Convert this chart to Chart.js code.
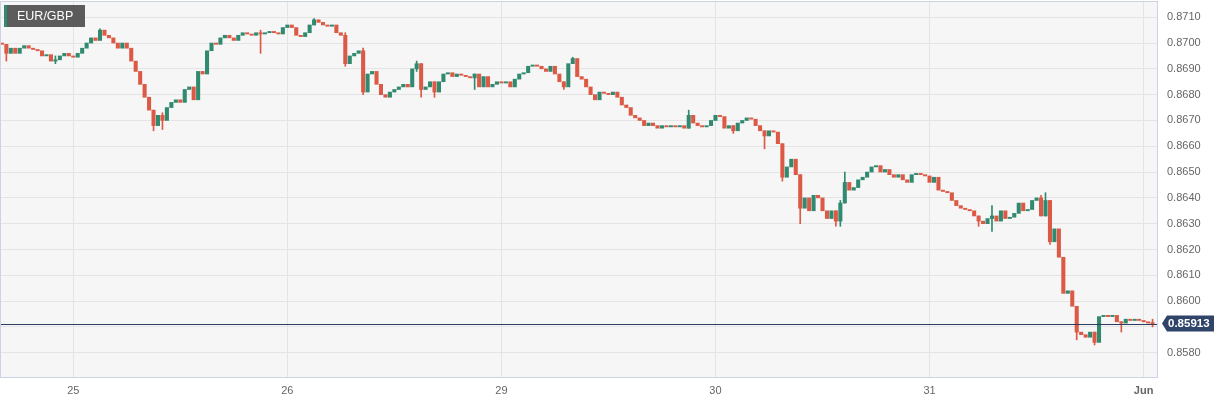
<!DOCTYPE html>
<html>
<head>
<meta charset="utf-8">
<script src="https://cdn.jsdelivr.net/npm/chart.js@4.4.1/dist/chart.umd.min.js"></script>
<style>
  html, body { margin: 0; padding: 0; background: #fff; }
  canvas { display: block; }
</style>
</head>
<body>
<canvas id="chart" width="1229" height="403"></canvas>
<script>
// Données (bougies de 30 min, ouverture = clôture précédente)
const symbol = 'EUR/GBP';
const firstOpen = 0.8700;
const closes = [
    0.86995, 0.8696, 0.8698, 0.8696, 0.8698, 0.8699, 0.8698, 0.86975, 0.8697, 0.8695,
    0.86955, 0.8693, 0.86935, 0.8695, 0.8696, 0.8695, 0.86945, 0.8696, 0.8698, 0.8700,
    0.8702, 0.8701, 0.8705, 0.8703, 0.8702, 0.8700, 0.8698, 0.8700, 0.8698, 0.8693,
    0.8689, 0.8684, 0.8679, 0.8674, 0.8668, 0.8672, 0.8670, 0.8675, 0.8677, 0.8678,
    0.8677, 0.8682, 0.8683, 0.8678, 0.8689, 0.8688, 0.8697, 0.8700, 0.86995, 0.8702,
    0.8703, 0.8702, 0.8701, 0.8703, 0.8704, 0.87035, 0.8703, 0.8704, 0.87035, 0.8704,
    0.87045, 0.8704, 0.87035, 0.8706, 0.8707, 0.8706, 0.8703, 0.87025, 0.8704, 0.8707,
    0.8709, 0.8708, 0.8707, 0.87065, 0.8707, 0.8704, 0.8703, 0.8692, 0.8695, 0.8696,
    0.8697, 0.8681, 0.8688, 0.8689, 0.8684, 0.8680, 0.8679, 0.8681, 0.8682, 0.8683,
    0.8684, 0.8683, 0.8690, 0.8692, 0.8682, 0.8683, 0.8685, 0.8681, 0.8685, 0.8688,
    0.86885, 0.8687, 0.8688, 0.86875, 0.8687, 0.86865, 0.8688, 0.8683, 0.8687, 0.8683,
    0.8684, 0.8685, 0.86845, 0.8685, 0.8683, 0.8686, 0.8688, 0.86885, 0.8691, 0.86915,
    0.8691, 0.8690, 0.8689, 0.8691, 0.8688, 0.8685, 0.8683, 0.8692, 0.8694, 0.8687,
    0.8686, 0.8683, 0.8680, 0.8678, 0.8681, 0.86805, 0.8680, 0.8681, 0.8679, 0.8676,
    0.8675, 0.8672, 0.8671, 0.8670, 0.8668, 0.8669, 0.8668, 0.8667, 0.8668, 0.86675,
    0.8668, 0.86675, 0.8668, 0.8667, 0.8672, 0.8669, 0.8668, 0.86675, 0.8668, 0.8670,
    0.8672, 0.86715, 0.8667, 0.8668, 0.8666, 0.8669, 0.8670, 0.8671, 0.86705, 0.8668,
    0.8666, 0.8664, 0.8666, 0.86655, 0.8661, 0.8648, 0.8652, 0.8655, 0.8649, 0.8636,
    0.8640, 0.8635, 0.8641, 0.8640, 0.8635, 0.8632, 0.8635, 0.8631, 0.8638, 0.8646,
    0.8643, 0.8644, 0.8647, 0.8648, 0.8650, 0.8652, 0.86525, 0.8650, 0.8651, 0.8649,
    0.8648, 0.8649, 0.8647, 0.8646, 0.8649, 0.86495, 0.8649, 0.86485, 0.8646, 0.8648,
    0.8643, 0.86425, 0.8642, 0.8639, 0.8637, 0.8636, 0.86355, 0.8635, 0.8633, 0.8631,
    0.8630, 0.8632, 0.8633, 0.8631, 0.8635, 0.8632, 0.86325, 0.8634, 0.8638, 0.8635,
    0.86355, 0.8639, 0.8640, 0.8633, 0.8639, 0.8623, 0.8628, 0.8617, 0.8603, 0.8604,
    0.8598, 0.8588, 0.8587, 0.8586, 0.8588, 0.8584, 0.8594, 0.85945, 0.8594, 0.85945,
    0.8592, 0.85915, 0.8593, 0.85925, 0.8593, 0.85925, 0.8592, 0.85915, 0.85913
];

// Mèches visibles (index de bougie, plus haut, plus bas)
const wickAt   = [1, 12, 22, 34, 36, 58, 70, 77, 81, 93, 94, 97, 106, 126, 128, 154, 164, 171, 175, 179, 187, 188, 189, 219, 222, 233, 234, 235, 241, 245, 251, 258];
const wickHigh = [0.86995, 0.8695, 0.87055, 0.8674, 0.8673, 0.8705, 0.87095, 0.8704, 0.8698, 0.8693, 0.8692, 0.8685, 0.8688, 0.8685, 0.86945, 0.8674, 0.8668, 0.8666, 0.8661, 0.8649, 0.8635, 0.8639, 0.8650, 0.8633, 0.8637, 0.8641, 0.8642, 0.8639, 0.8598, 0.8588, 0.8592, 0.8593];
const wickLow  = [0.8693, 0.8692, 0.8702, 0.8666, 0.86665, 0.8696, 0.8707, 0.8691, 0.8680, 0.8689, 0.8679, 0.8679, 0.8682, 0.8682, 0.8692, 0.8667, 0.8665, 0.8659, 0.86465, 0.8630, 0.8629, 0.8629, 0.8638, 0.8629, 0.8627, 0.8633, 0.8633, 0.8622, 0.8585, 0.8583, 0.8588, 0.8590];

const xTickIdx = [16, 64, 112, 160, 208, 256];
const xTickLabels = ['25', '26', '29', '30', '31', 'Jun'];
const yTicks = [0.8580, 0.8590, 0.8600, 0.8610, 0.8620, 0.8630, 0.8640, 0.8650, 0.8660, 0.8670, 0.8680, 0.8690, 0.8700, 0.8710];
const lastPrice = 0.85913;

const GREEN = '#2f8a70';
const RED = '#dc5a45';

const opens = closes.map((c, i) => i === 0 ? firstOpen : closes[i - 1]);
const bodies = closes.map((c, i) => ({ x: i, y: [opens[i], c] }));
const bodyColors = closes.map((c, i) => c >= opens[i] ? GREEN : RED);
const wicks = wickAt.map((i, k) => ({ x: i, y: [wickLow[k], wickHigh[k]] }));
const wickColors = wickAt.map(i => bodyColors[i]);

// Fond, bordure, titre et étiquette du dernier prix
const decor = {
    id: 'decor',
    beforeDraw(chart) {
        const { ctx, chartArea: a } = chart;
        ctx.save();
        ctx.fillStyle = '#fff';
        ctx.fillRect(0, 0, chart.width, chart.height);
        ctx.fillStyle = '#f6f6f6';
        ctx.fillRect(a.left, a.top, a.right - a.left, a.bottom - a.top);
        ctx.restore();
    },
    afterDatasetsDraw(chart) {
        const { ctx, chartArea: a, scales } = chart;
        const y = Math.round(scales.y.getPixelForValue(lastPrice)) + 0.5;
        ctx.save();
        ctx.strokeStyle = '#2b3d5e';
        ctx.lineWidth = 1;
        ctx.beginPath();
        ctx.moveTo(a.left, y);
        ctx.lineTo(a.right, y);
        ctx.stroke();
        ctx.restore();
    },
    afterDraw(chart) {
        const { ctx, chartArea: a, scales } = chart;
        ctx.save();
        // bordure
        ctx.strokeStyle = '#cdd2e4';
        ctx.lineWidth = 1;
        ctx.strokeRect(a.left - 0.5, a.top - 0.5, a.right - a.left + 1, a.bottom - a.top + 1);

        // titre
        ctx.fillStyle = 'rgba(78,78,78,0.92)';
        ctx.fillRect(4, 5, 81, 22);
        ctx.fillStyle = GREEN;
        ctx.fillRect(4, 5, 3, 22);
        ctx.fillStyle = '#fff';
        ctx.font = '12.5px "Liberation Sans", Arial, sans-serif';
        ctx.textBaseline = 'middle';
        ctx.fillText(symbol, 17, 16.5);

        // étiquette du prix
        const y = scales.y.getPixelForValue(lastPrice);
        ctx.fillStyle = '#2f4468';
        ctx.beginPath();
        ctx.moveTo(1162, y);
        ctx.lineTo(1167, y - 8);
        ctx.lineTo(1214, y - 8);
        ctx.lineTo(1214, y + 8);
        ctx.lineTo(1167, y + 8);
        ctx.closePath();
        ctx.fill();
        ctx.fillStyle = '#fff';
        ctx.font = 'bold 11.5px "Liberation Sans", Arial, sans-serif';
        ctx.textBaseline = 'middle';
        ctx.fillText(lastPrice.toFixed(5), 1168, y + 0.5);
        ctx.restore();
    }
};

new Chart(document.getElementById('chart'), {
    type: 'bar',
    data: {
        datasets: [
            {
                label: 'wicks',
                data: wicks,
                backgroundColor: wickColors,
                barThickness: 1,
                order: 2
            },
            {
                label: 'bodies',
                data: bodies,
                backgroundColor: bodyColors,
                barThickness: 3.4,
                minBarLength: 1,
                order: 1
            }
        ]
    },
    options: {
        responsive: false,
        animation: false,
        events: [],
        layout: { padding: { left: 1, top: 2, right: 0, bottom: 0 } },
        datasets: { bar: { grouped: false } },
        plugins: {
            legend: { display: false },
            tooltip: { enabled: false }
        },
        scales: {
            x: {
                type: 'linear',
                offset: false,
                min: -0.2,
                max: 259,
                afterBuildTicks: s => { s.ticks = xTickIdx.map(v => ({ value: v })); },
                afterFit: s => { s.height = 26; s.paddingLeft = 0; s.paddingRight = 0; },
                border: { display: false },
                grid: { color: '#e4e4e4', drawTicks: false, offset: false },
                ticks: {
                    padding: 7,
                    color: '#666',
                    font: c => ({ family: '"Liberation Sans", Arial, sans-serif', size: 11, weight: c.index === 5 ? 'bold' : 'normal' }),
                    callback: v => xTickLabels[xTickIdx.indexOf(v)]
                }
            },
            y: {
                position: 'right',
                min: 0.85706,
                max: 0.87159,
                afterBuildTicks: s => { s.ticks = yTicks.map(v => ({ value: v })); },
                afterFit: s => { s.width = 72; s.paddingTop = 0; s.paddingBottom = 0; },
                border: { display: false },
                grid: { color: '#e4e4e4', drawTicks: false },
                ticks: {
                    padding: 10,
                    color: '#666',
                    font: { family: '"Liberation Sans", Arial, sans-serif', size: 11 },
                    callback: v => v.toFixed(4)
                }
            }
        }
    },
    plugins: [decor]
});
</script>
</body>
</html>
